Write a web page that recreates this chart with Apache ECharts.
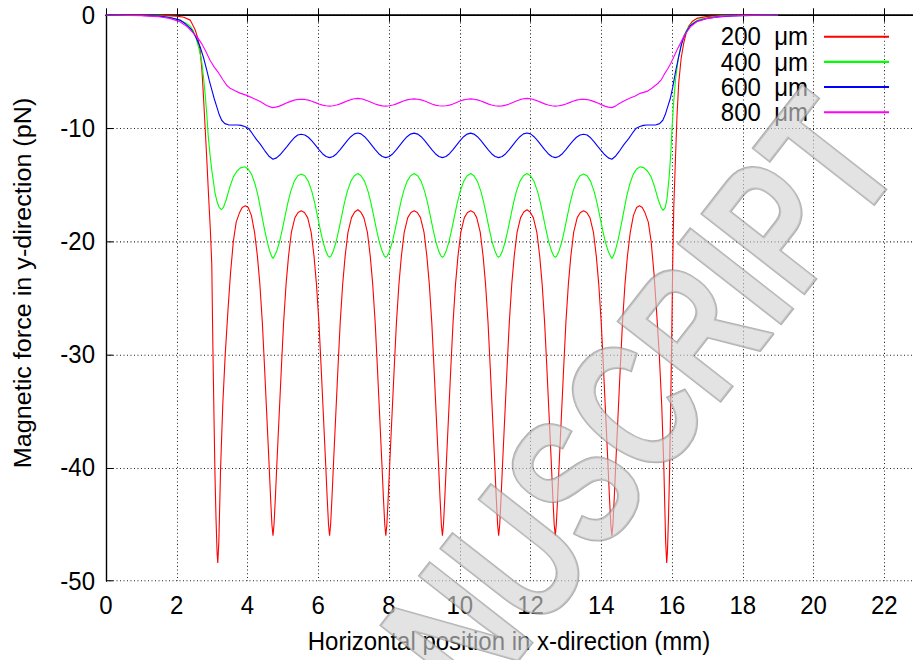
<!DOCTYPE html>
<html><head><meta charset="utf-8">
<script src="https://cdn.jsdelivr.net/npm/echarts@6/dist/echarts.min.js"></script>
<style>
html,body{margin:0;padding:0;background:#fff;overflow:hidden;}
#wrap{width:913px;height:660px;overflow:hidden;position:relative;}
#chart{width:913px;height:629px;transform:scaleY(1.04928);transform-origin:0 0;}
</style></head><body><div id="wrap"><div id="chart"></div></div>
<script>
// ---- axis settings ----
const xMin = 0, xMax = 24, xStep = 2;
const yMin = -50, yMax = 0, yStep = 10;
const seriesNames = ['200\u00a0\u00a0μm', '400\u00a0\u00a0μm', '600\u00a0\u00a0μm', '800\u00a0\u00a0μm'];
const xTitle = 'Horizontal position in x-direction (mm)';
const yTitle = 'Magnetic force in y-direction (pN)';
const watermarkText = 'MANUSCRIPT';

// ---- data [x (mm), force (pN)] ----
const red200 = [
[0,0],[1,0],[1.6,-0.03],[2.0,-0.1],[2.2,-0.2],[2.38,-0.45],[2.52,-1.3],[2.6,-2.1],[2.66,-3.1],[2.71,-4.8],[2.75,-6.9],[2.8,-9.8],[2.85,-12.8],[2.9,-16],[2.95,-19],[2.99,-22],[3.02,-29],[3.05,-35],[3.08,-40.5],[3.11,-44.5],[3.14,-47.5],[3.16,-48.4],[3.19,-46.5],[3.24,-40],[3.3,-34.5],[3.37,-30],[3.45,-26],[3.52,-22.8],[3.6,-20],[3.68,-18.3],[3.77,-17.5],[3.85,-17.0],[3.94,-16.85],
[4.02,-17.0],[4.11,-17.7],[4.2,-19.2],[4.28,-21.3],[4.35,-23.8],[4.42,-27.2],[4.48,-31],[4.54,-35],[4.6,-39],[4.65,-42.5],[4.69,-45],[4.72,-46],[4.75,-45],[4.79,-42.5],[4.84,-39],[4.9,-35],[4.96,-31],[5.02,-27.2],[5.09,-23.8],[5.16,-21.3],[5.24,-19.2],[5.34,-17.9],[5.43,-17.45],[5.52,-17.3],
[5.61,-17.45],[5.7,-17.9],[5.8,-19.2],[5.88,-21.3],[5.95,-23.8],[6.02,-27.2],[6.08,-31],[6.14,-35],[6.2,-39],[6.25,-42.5],[6.29,-45],[6.32,-46],[6.35,-45],[6.39,-42.5],[6.44,-39],[6.5,-35],[6.56,-31],[6.62,-27.2],[6.69,-23.8],[6.76,-21.3],[6.84,-19.2],[6.94,-17.9],[7.03,-17.4],[7.12,-17.2],
[7.2,-17.4],[7.29,-17.9],[7.39,-19.2],[7.47,-21.3],[7.54,-23.8],[7.61,-27.2],[7.67,-31],[7.73,-35],[7.79,-39],[7.84,-42.5],[7.88,-45],[7.91,-46],[7.94,-45],[7.98,-42.5],[8.03,-39],[8.09,-35],[8.15,-31],[8.21,-27.2],[8.28,-23.8],[8.35,-21.3],[8.43,-19.2],[8.53,-17.9],[8.62,-17.45],[8.71,-17.3],
[8.8,-17.45],[8.89,-17.9],[8.99,-19.2],[9.07,-21.3],[9.14,-23.8],[9.21,-27.2],[9.27,-31],[9.33,-35],[9.39,-39],[9.44,-42.5],[9.48,-45],[9.51,-46],[9.54,-45],[9.58,-42.5],[9.63,-39],[9.69,-35],[9.75,-31],[9.81,-27.2],[9.88,-23.8],[9.95,-21.3],[10.03,-19.2],[10.13,-17.9],[10.22,-17.45],[10.31,-17.3],
[10.4,-17.45],[10.48,-17.9],[10.58,-19.2],[10.66,-21.3],[10.73,-23.8],[10.8,-27.2],[10.86,-31],[10.92,-35],[10.98,-39],[11.03,-42.5],[11.07,-45],[11.1,-46],[11.13,-45],[11.17,-42.5],[11.22,-39],[11.28,-35],[11.34,-31],[11.4,-27.2],[11.47,-23.8],[11.54,-21.3],[11.62,-19.2],[11.72,-17.9],[11.81,-17.4],[11.9,-17.2],
[11.99,-17.4],[12.08,-17.9],[12.18,-19.2],[12.26,-21.3],[12.33,-23.8],[12.4,-27.2],[12.46,-31],[12.52,-35],[12.58,-39],[12.63,-42.5],[12.67,-45],[12.7,-46],[12.73,-45],[12.77,-42.5],[12.82,-39],[12.88,-35],[12.94,-31],[13.0,-27.2],[13.07,-23.8],[13.14,-21.3],[13.22,-19.2],[13.32,-17.9],[13.41,-17.45],[13.5,-17.3],
[13.59,-17.45],[13.68,-17.9],[13.78,-19.2],[13.86,-21.3],[13.93,-23.8],[14.0,-27.2],[14.06,-31],[14.12,-35],[14.18,-39],[14.23,-42.5],[14.27,-45],[14.3,-46],[14.33,-45],[14.37,-42.5],[14.42,-39],[14.48,-35],[14.54,-31],[14.6,-27.2],[14.67,-23.8],[14.74,-21.3],[14.82,-19.2],[14.91,-17.7],[15.0,-17.0],[15.08,-16.85],
[15.16,-17.0],[15.24,-17.5],[15.33,-18.3],[15.41,-20],[15.49,-22.8],[15.56,-26],[15.64,-30],[15.71,-34.5],[15.77,-40],[15.82,-46.5],[15.85,-48.4],[15.87,-47.5],[15.9,-44.5],[15.93,-40.5],[15.96,-35],[15.99,-29],[16.02,-22],[16.05,-17],[16.09,-13.4],[16.14,-9],[16.19,-6],[16.26,-3.8],[16.33,-2.5],[16.4,-1.6],[16.47,-1.0],[16.58,-0.55],[16.7,-0.3],[17,-0.12],[17.5,-0.05],[18,-0.02],[19,0]
];
const green400 = [
[0,0],[1,-0.02],[1.5,-0.08],[1.8,-0.2],[2.09,-0.45],[2.25,-0.7],[2.38,-1.0],[2.47,-1.4],[2.56,-2.2],[2.63,-3.0],[2.7,-4.0],[2.75,-5.3],[2.8,-6.9],[2.85,-8.8],[2.89,-10.7],[2.94,-12.3],[2.99,-13.7],[3.04,-14.8],[3.08,-15.7],[3.14,-16.5],[3.2,-17.0],[3.26,-17.2],[3.32,-17.0],[3.4,-16.3],[3.5,-15.2],[3.6,-14.3],[3.7,-13.8],[3.8,-13.5],[3.92,-13.4],
[4.02,-13.6],[4.12,-14.1],[4.22,-15.0],[4.3,-16.0],[4.38,-17.3],[4.46,-18.6],[4.54,-19.8],[4.62,-20.8],[4.68,-21.3],[4.72,-21.5],[4.76,-21.3],[4.82,-20.9],[4.9,-20.1],[4.98,-19.0],[5.06,-17.8],[5.14,-16.6],[5.22,-15.6],[5.32,-14.7],[5.42,-14.2],[5.52,-14.05],
[5.62,-14.2],[5.72,-14.7],[5.82,-15.6],[5.9,-16.6],[5.98,-17.8],[6.06,-19.0],[6.14,-20.1],[6.22,-20.9],[6.28,-21.3],[6.32,-21.4],[6.36,-21.3],[6.42,-20.9],[6.5,-20.1],[6.58,-19.0],[6.66,-17.8],[6.74,-16.6],[6.82,-15.6],[6.92,-14.7],[7.02,-14.2],[7.12,-14.0],
[7.21,-14.2],[7.31,-14.7],[7.41,-15.6],[7.49,-16.6],[7.57,-17.8],[7.65,-19.0],[7.73,-20.1],[7.81,-20.9],[7.87,-21.3],[7.91,-21.4],[7.95,-21.3],[8.01,-20.9],[8.09,-20.1],[8.17,-19.0],[8.25,-17.8],[8.33,-16.6],[8.41,-15.6],[8.51,-14.7],[8.61,-14.2],[8.71,-14.0],
[8.81,-14.2],[8.91,-14.7],[9.01,-15.6],[9.09,-16.6],[9.17,-17.8],[9.25,-19.0],[9.33,-20.1],[9.41,-20.9],[9.47,-21.3],[9.51,-21.4],[9.55,-21.3],[9.61,-20.9],[9.69,-20.1],[9.77,-19.0],[9.85,-17.8],[9.93,-16.6],[10.01,-15.6],[10.11,-14.7],[10.21,-14.2],[10.31,-14.0],
[10.4,-14.2],[10.5,-14.7],[10.6,-15.6],[10.68,-16.6],[10.76,-17.8],[10.84,-19.0],[10.92,-20.1],[11.0,-20.9],[11.06,-21.3],[11.1,-21.4],[11.14,-21.3],[11.2,-20.9],[11.28,-20.1],[11.36,-19.0],[11.44,-17.8],[11.52,-16.6],[11.6,-15.6],[11.7,-14.7],[11.8,-14.2],[11.9,-14.0],
[12.0,-14.2],[12.1,-14.7],[12.2,-15.6],[12.28,-16.6],[12.36,-17.8],[12.44,-19.0],[12.52,-20.1],[12.6,-20.9],[12.66,-21.3],[12.7,-21.4],[12.74,-21.3],[12.8,-20.9],[12.88,-20.1],[12.96,-19.0],[13.04,-17.8],[13.12,-16.6],[13.2,-15.6],[13.3,-14.7],[13.4,-14.2],[13.5,-14.05],
[13.6,-14.2],[13.7,-14.7],[13.8,-15.6],[13.88,-16.6],[13.96,-17.8],[14.04,-19.0],[14.12,-20.1],[14.2,-20.9],[14.26,-21.3],[14.3,-21.5],[14.34,-21.3],[14.4,-20.8],[14.48,-19.8],[14.56,-18.6],[14.64,-17.3],[14.72,-16.0],[14.8,-15.0],[14.9,-14.1],[15.0,-13.6],[15.1,-13.4],
[15.21,-13.5],[15.31,-13.8],[15.41,-14.3],[15.51,-15.2],[15.61,-16.3],[15.69,-17.0],[15.75,-17.25],[15.81,-17.0],[15.86,-16.2],[15.92,-14.3],[15.97,-12.0],[16.0,-10.0],[16.05,-7.6],[16.1,-5.7],[16.18,-3.8],[16.26,-2.6],[16.34,-1.8],[16.42,-1.3],[16.55,-0.8],[16.7,-0.5],[16.9,-0.3],[17.2,-0.15],[17.6,-0.06],[18.2,-0.02],[19,0]
];
const blue600 = [
[0,0],[1,-0.03],[1.5,-0.1],[1.8,-0.22],[2.09,-0.45],[2.25,-0.8],[2.42,-1.3],[2.55,-2.0],[2.66,-2.8],[2.76,-3.8],[2.85,-4.9],[2.92,-5.8],[2.99,-6.6],[3.06,-7.4],[3.13,-8.1],[3.2,-8.8],[3.27,-9.3],[3.36,-9.6],[3.46,-9.7],[3.6,-9.72],[3.72,-9.72],[3.82,-9.75],[3.92,-9.85],
[4.02,-10.0],[4.12,-10.4],[4.24,-10.95],[4.36,-11.4],[4.48,-11.95],[4.6,-12.45],[4.72,-12.74],[4.82,-12.62],[4.92,-12.35],[5.02,-11.98],[5.12,-11.6],[5.22,-11.2],[5.32,-10.85],[5.42,-10.6],[5.52,-10.53],
[5.62,-10.6],[5.72,-10.8],[5.82,-11.12],[5.92,-11.5],[6.02,-11.9],[6.12,-12.25],[6.22,-12.5],[6.32,-12.6],[6.42,-12.5],[6.52,-12.25],[6.62,-11.9],[6.72,-11.5],[6.82,-11.1],[6.92,-10.75],[7.02,-10.5],[7.12,-10.42],
[7.21,-10.5],[7.31,-10.75],[7.41,-11.1],[7.51,-11.5],[7.61,-11.9],[7.71,-12.25],[7.81,-12.5],[7.91,-12.6],[8.01,-12.5],[8.11,-12.25],[8.21,-11.9],[8.31,-11.5],[8.41,-11.1],[8.51,-10.75],[8.61,-10.52],[8.71,-10.44],
[8.81,-10.52],[8.91,-10.75],[9.01,-11.1],[9.11,-11.5],[9.21,-11.9],[9.31,-12.25],[9.41,-12.5],[9.51,-12.6],[9.61,-12.5],[9.71,-12.25],[9.81,-11.9],[9.91,-11.5],[10.01,-11.1],[10.11,-10.75],[10.21,-10.52],[10.31,-10.44],
[10.4,-10.52],[10.5,-10.75],[10.6,-11.1],[10.7,-11.5],[10.8,-11.9],[10.9,-12.25],[11.0,-12.5],[11.1,-12.6],[11.2,-12.5],[11.3,-12.25],[11.4,-11.9],[11.5,-11.5],[11.6,-11.1],[11.7,-10.75],[11.8,-10.5],[11.9,-10.42],
[12.0,-10.5],[12.1,-10.75],[12.2,-11.1],[12.3,-11.5],[12.4,-11.9],[12.5,-12.25],[12.6,-12.5],[12.7,-12.6],[12.8,-12.5],[12.9,-12.25],[13.0,-11.9],[13.1,-11.5],[13.2,-11.12],[13.3,-10.8],[13.4,-10.6],[13.5,-10.53],
[13.6,-10.6],[13.7,-10.85],[13.8,-11.2],[13.9,-11.6],[14.0,-11.98],[14.1,-12.35],[14.2,-12.62],[14.3,-12.74],[14.41,-12.45],[14.53,-11.95],[14.65,-11.4],[14.77,-10.95],[14.89,-10.4],[14.99,-10.0],[15.09,-9.85],[15.19,-9.75],[15.29,-9.72],[15.41,-9.72],[15.55,-9.7],[15.65,-9.6],[15.74,-9.3],[15.81,-8.8],[15.88,-8.1],[15.95,-7.4],[16.02,-6.4],[16.1,-5.0],[16.18,-3.8],[16.26,-2.7],[16.33,-2.0],[16.42,-1.4],[16.52,-0.95],[16.7,-0.55],[16.99,-0.3],[17.3,-0.17],[17.7,-0.08],[18.3,-0.03],[19,0]
];
const magenta800 = [
[0,0],[1,-0.05],[1.5,-0.15],[1.8,-0.3],[2.09,-0.6],[2.3,-1.05],[2.47,-1.6],[2.6,-2.05],[2.7,-2.5],[2.82,-3.2],[2.94,-4.0],[3.06,-4.6],[3.18,-5.1],[3.3,-5.7],[3.41,-6.2],[3.52,-6.5],[3.65,-6.7],[3.79,-6.9],[3.98,-7.1],[4.16,-7.35],[4.36,-7.65],[4.54,-8.0],[4.7,-8.18],
[4.8,-8.14],[4.9,-8.05],[5.0,-7.92],[5.1,-7.78],[5.2,-7.65],[5.3,-7.54],[5.4,-7.47],[5.5,-7.44],
[5.62,-7.46],[5.72,-7.52],[5.82,-7.62],[5.92,-7.74],[6.02,-7.86],[6.12,-7.96],[6.22,-8.02],[6.32,-8.05],[6.42,-8.02],[6.52,-7.95],[6.62,-7.85],[6.72,-7.72],[6.82,-7.59],[6.92,-7.48],[7.02,-7.4],[7.12,-7.37],
[7.21,-7.4],[7.31,-7.48],[7.41,-7.6],[7.51,-7.73],[7.61,-7.86],[7.71,-7.96],[7.81,-8.03],[7.91,-8.05],[8.01,-8.02],[8.11,-7.95],[8.21,-7.85],[8.31,-7.72],[8.41,-7.6],[8.51,-7.5],[8.61,-7.44],[8.71,-7.41],
[8.81,-7.44],[8.91,-7.5],[9.01,-7.6],[9.11,-7.73],[9.21,-7.86],[9.31,-7.96],[9.41,-8.02],[9.51,-8.04],[9.61,-8.02],[9.71,-7.96],[9.81,-7.86],[9.91,-7.73],[10.01,-7.6],[10.11,-7.5],[10.21,-7.44],[10.31,-7.41],
[10.4,-7.44],[10.5,-7.5],[10.6,-7.6],[10.7,-7.72],[10.8,-7.85],[10.9,-7.95],[11.0,-8.02],[11.1,-8.05],[11.2,-8.03],[11.3,-7.96],[11.4,-7.86],[11.5,-7.73],[11.6,-7.6],[11.7,-7.48],[11.8,-7.4],[11.9,-7.37],
[12.0,-7.4],[12.1,-7.48],[12.2,-7.59],[12.3,-7.72],[12.4,-7.85],[12.5,-7.95],[12.6,-8.02],[12.7,-8.05],[12.8,-8.02],[12.9,-7.96],[13.0,-7.86],[13.1,-7.74],[13.2,-7.62],[13.3,-7.52],[13.4,-7.46],[13.5,-7.44],
[13.6,-7.47],[13.7,-7.54],[13.8,-7.65],[13.9,-7.78],[14.0,-7.92],[14.1,-8.05],[14.2,-8.14],[14.3,-8.18],[14.4,-8.05],[14.5,-7.85],[14.64,-7.6],[14.8,-7.35],[14.96,-7.15],[15.1,-6.92],[15.29,-6.75],[15.42,-6.5],[15.5,-6.3],[15.6,-6.05],[15.7,-5.7],[15.78,-5.25],[15.88,-4.75],[15.96,-4.3],[16.05,-3.7],[16.14,-3.1],[16.23,-2.55],[16.35,-1.8],[16.52,-1.05],[16.7,-0.6],[16.99,-0.3],[17.46,-0.1],[18,-0.04],[19,0]
];

const S = 660 / 629;   // vertical stretch of the picture
const FONT = '"Liberation Sans", Arial, sans-serif';
const chart = echarts.init(document.getElementById('chart'), null, {renderer: 'svg'});
const axisLineStyle = {color: '#000', width: 1.4};
const gridLineStyle = {color: '#222', width: 1, type: [1, 2.5]};

function lineSeries(name, data, color) {
  return {
    name: name, type: 'line', data: data, symbol: 'none', showSymbol: false,
    lineStyle: {color: color, width: 1.1}, itemStyle: {color: color},
    z: 3, animation: false
  };
}

chart.setOption({
  animation: false,
  backgroundColor: '#fff',
  grid: {left: 106, top: 15 / S, width: 849, height: 566 / S, containLabel: false, outerBoundsMode: 'none'},
  legend: {
    orient: 'vertical', right: 23, top: 36 / S - 11.35, align: 'right', padding: 0,
    itemWidth: 65, itemHeight: 22.7, itemGap: 0,
    itemStyle: {opacity: 0},
    textStyle: {fontFamily: FONT, fontSize: 24, color: '#000', lineHeight: 22.7, padding: [0, 11, 0, 0]},
    data: seriesNames
  },
  xAxis: [{
    type: 'value', min: xMin, max: xMax, interval: xStep, position: 'bottom',
    axisLine: {show: true, lineStyle: axisLineStyle},
    axisTick: {show: true, inside: true, length: 6.5, lineStyle: {color: '#000', width: 1}},
    axisLabel: {fontFamily: FONT, fontSize: 24, color: '#000', margin: 11, showMaxLabel: false},
    splitLine: {show: true, lineStyle: gridLineStyle}
  }, {
    type: 'value', min: xMin, max: xMax, interval: xStep, position: 'top',
    axisLine: {show: true, lineStyle: axisLineStyle},
    axisTick: {show: true, inside: true, length: 6.5, lineStyle: {color: '#000', width: 1}},
    axisLabel: {show: false}, splitLine: {show: false}
  }],
  yAxis: {
    type: 'value', min: yMin, max: yMax, interval: yStep,
    axisLine: {show: true, lineStyle: axisLineStyle},
    axisTick: {show: true, inside: true, length: 7, lineStyle: {color: '#000', width: 1}},
    axisLabel: {fontFamily: FONT, fontSize: 24, color: '#000', margin: 11},
    splitLine: {show: true, lineStyle: gridLineStyle}
  },
  graphic: [
    {type: 'text', x: 509, y: 641 / S, z: 10,
     style: {text: xTitle, font: '24px ' + FONT, fill: '#000', textAlign: 'center', textVerticalAlign: 'middle'}},
    {type: 'text', x: 23, y: 283 / S, rotation: Math.PI / 2, z: 10,
     style: {text: yTitle, font: '24px ' + FONT, fill: '#000', textAlign: 'center', textVerticalAlign: 'middle'}},
    {type: 'group', x: 0, y: 0, scaleY: 1 / S, z: 100, silent: true,
     children: [
       {type: 'text', x: 854, y: 124, rotation: 0.9076, scaleX: 0.72, z: 100, silent: true,
        style: {text: watermarkText, font: 'bold 189px ' + FONT, fill: 'rgba(210,210,210,0.62)',
                stroke: 'rgba(125,125,125,0.6)', lineWidth: 2.5, textAlign: 'right', textVerticalAlign: 'middle'}}
     ]}
  ],
  series: [
    lineSeries(seriesNames[0], red200, '#ff0000'),
    lineSeries(seriesNames[1], green400, '#00ff00'),
    lineSeries(seriesNames[2], blue600, '#0000ff'),
    lineSeries(seriesNames[3], magenta800, '#ff00ff')
  ]
});
</script></body></html>
